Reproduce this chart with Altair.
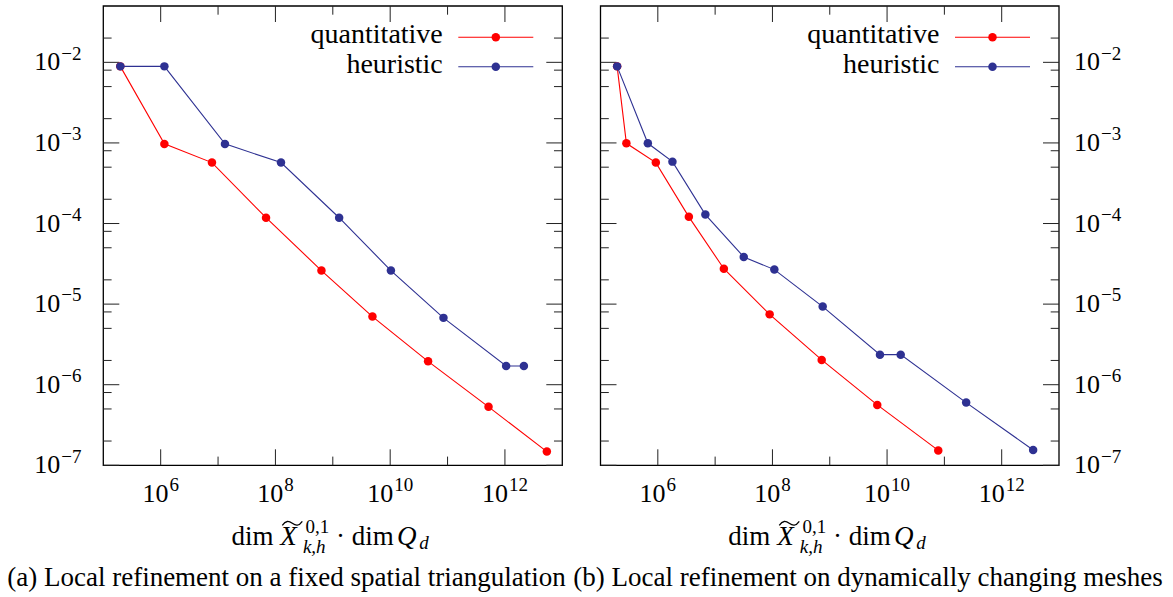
import altair as alt
import pandas as pd

# ---------------- data ----------------
SERIES = ["quantitative", "heuristic"]
COLORS = ["#ff0000", "#2e3192"]

# panel (a): fixed spatial triangulation
A_QUANT_DIM = [1.98e5, 1.16e6, 7.83e6, 6.86e7, 6.34e8, 4.91e9, 4.58e10, 5.18e11, 5.38e12]
A_QUANT_ERR = [8.91e-3, 9.73e-4, 5.70e-4, 1.18e-4, 2.61e-5, 7.00e-6, 1.95e-6, 5.31e-7, 1.48e-7]
A_HEUR_DIM = [1.98e5, 1.16e6, 1.32e7, 1.25e8, 1.29e9, 1.03e10, 8.49e10, 1.05e12, 2.14e12]
A_HEUR_ERR = [8.91e-3, 8.91e-3, 9.73e-4, 5.70e-4, 1.18e-4, 2.61e-5, 6.75e-6, 1.71e-6, 1.71e-6]

# panel (b): dynamically changing meshes
B_QUANT_DIM = [1.95e5, 2.83e5, 9.23e5, 3.48e6, 1.42e7, 8.93e7, 7.24e8, 6.75e9, 7.82e10]
B_QUANT_ERR = [8.91e-3, 9.89e-4, 5.70e-4, 1.21e-4, 2.75e-5, 7.46e-6, 2.03e-6, 5.61e-7, 1.53e-7]
B_HEUR_DIM = [1.95e5, 6.70e5, 1.80e6, 6.76e6, 3.16e7, 1.08e8, 7.53e8, 7.52e9, 1.73e10, 2.40e11, 3.54e12]
B_HEUR_ERR = [8.91e-3, 9.89e-4, 5.86e-4, 1.29e-4, 3.85e-5, 2.68e-5, 9.31e-6, 2.36e-6, 2.36e-6, 6.00e-7, 1.55e-7]

CAPTIONS = ["(a) Local refinement on a fixed spatial triangulation",
            "(b) Local refinement on dynamically changing meshes"]

X_LABEL_EXP = [6, 8, 10, 12]
X_MINOR_EXP = [7, 9, 11]
Y_LABEL_EXP = [-2, -3, -4, -5, -6, -7]
Y_MINOR = [2e-2, 8e-3, 5e-3, 2e-3, 8e-4, 5e-4, 2e-4, 8e-5, 5e-5, 2e-5,
           8e-6, 5e-6, 2e-6, 8e-7, 5e-7, 2e-7]

XDOM = [1e5, 1e13]
YDOM = [1e-7, 5e-2]

# ---------------- layout ----------------
W, H = 1173, 597
FONT = "Liberation Serif"
PANEL_X = [(103.3, 562.3), (600.5, 1059.0)]
Y_TOP, Y_BOT = 6.0, 465.3
CAPTION_X = [286.5, 868.0]
LEG_Y = [37.3, 66.7]
TICK = "#222222"
PT_SIZE = 72
TILDE = "M -1 0.2 C -0.65 -0.3 -0.35 -0.25 0 0 C 0.35 0.25 0.65 0.3 1 -0.2"

ys = alt.Scale(type="log", domain=YDOM, range=[Y_BOT, Y_TOP])
ONE = pd.DataFrame({"k": [0]})


def text_at(s, x, y, size, align="left", italic=False):
    props = dict(text=s, align=align, baseline="alphabetic", font=FONT, fontSize=size)
    if italic:
        props["fontStyle"] = "italic"
    return alt.Chart(ONE).mark_text(**props).encode(x=alt.value(x), y=alt.value(y))


def panel(idx, qx, qy, hx, hy):
    L, R = PANEL_X[idx]
    xs = alt.Scale(type="log", domain=XDOM, range=[L, R])

    def Xf(f):
        return alt.X(f, type="quantitative", scale=xs, axis=None)

    def Yf(f):
        return alt.Y(f, type="quantitative", scale=ys, axis=None)

    layers = []
    # frame
    layers.append(alt.Chart(ONE).mark_rect(fillOpacity=0, stroke="black", strokeWidth=1.3).encode(
        x=alt.value(L), x2=alt.value(R), y=alt.value(Y_TOP), y2=alt.value(Y_BOT)))

    # ticks (inward, mirrored on all sides)
    ymaj = pd.DataFrame({"v": [10.0 ** e for e in Y_LABEL_EXP]})
    ymin = pd.DataFrame({"v": Y_MINOR})
    xmaj = pd.DataFrame({"v": [10.0 ** e for e in X_LABEL_EXP]})
    xmin = pd.DataFrame({"v": [10.0 ** e for e in X_MINOR_EXP]})
    for df, ln in [(ymaj, 16), (ymin, 8.3)]:
        for x0, x1 in [(L, L + ln), (R, R - ln)]:
            layers.append(alt.Chart(df).mark_rule(color=TICK, strokeWidth=1).encode(
                x=alt.value(x0), x2=alt.value(x1), y=Yf("v")))
    for df, ln in [(xmaj, 16), (xmin, 8.7)]:
        for y0, y1 in [(Y_BOT, Y_BOT - ln), (Y_TOP, Y_TOP + ln)]:
            layers.append(alt.Chart(df).mark_rule(color=TICK, strokeWidth=1).encode(
                x=Xf("v"), y=alt.value(y0), y2=alt.value(y1)))

    # data
    for color, xv, yv in [(COLORS[0], qx, qy), (COLORS[1], hx, hy)]:
        df = pd.DataFrame({"dim": xv, "err": yv, "i": list(range(len(xv)))})
        base = alt.Chart(df).encode(x=Xf("dim"), y=Yf("err"))
        layers.append(base.mark_line(color=color, strokeWidth=1.1).encode(order="i:Q"))
        layers.append(base.mark_circle(color=color, size=PT_SIZE, opacity=1))

    # legend (label left, sample right)
    for j, (name, color) in enumerate(zip(SERIES, COLORS)):
        ly = LEG_Y[j]
        layers.append(text_at(name, R - 119.5, ly + 6, 28, align="right"))
        layers.append(alt.Chart(ONE).mark_rule(color=color, strokeWidth=1.1).encode(
            x=alt.value(R - 104), x2=alt.value(R - 29), y=alt.value(ly)))
        layers.append(alt.Chart(ONE).mark_circle(color=color, size=PT_SIZE, opacity=1).encode(
            x=alt.value(R - 66.5), y=alt.value(ly)))

    # y tick labels 10^{-k}
    ydf = pd.DataFrame({"v": [10.0 ** e for e in Y_LABEL_EXP],
                        "e": ["\u2212" + str(-e) for e in Y_LABEL_EXP]})
    if idx == 0:
        base_x, base_align, exp_x = L - 43, "right", L - 42
    else:
        base_x, base_align, exp_x = R + 15, "left", R + 42
    layers.append(alt.Chart(ydf).mark_text(
        text="10", align=base_align, baseline="alphabetic", dy=8, font=FONT, fontSize=26
    ).encode(x=alt.value(base_x), y=Yf("v")))
    layers.append(alt.Chart(ydf).mark_text(
        align="left", baseline="alphabetic", dy=-2.7, font=FONT, fontSize=19
    ).encode(x=alt.value(exp_x), y=Yf("v"), text="e:N"))

    # x tick labels 10^{k}
    for group, dxb, dxe in [([e for e in X_LABEL_EXP if e < 10], 7.75, 8.75),
                            ([e for e in X_LABEL_EXP if e >= 10], 3.0, 4.0)]:
        xdf = pd.DataFrame({"v": [10.0 ** e for e in group], "e": [str(e) for e in group]})
        layers.append(alt.Chart(xdf).mark_text(
            text="10", align="right", baseline="alphabetic", dx=dxb, font=FONT, fontSize=26
        ).encode(x=Xf("v"), y=alt.value(Y_BOT + 36.2)))
        layers.append(alt.Chart(xdf).mark_text(
            align="left", baseline="alphabetic", dx=dxe, font=FONT, fontSize=19
        ).encode(x=Xf("v"), y=alt.value(Y_BOT + 25.7), text="e:N"))

    # x axis title: dim X~^{0,1}_{k,h} . dim Q_d
    C = (L + R) / 2
    layers.append(text_at("dim", C - 101.4, 545.3, 27))
    layers.append(text_at("X", C - 52.5, 545.3, 27, italic=True))
    layers.append(alt.Chart(ONE).mark_point(
        shape=TILDE, size=400, filled=False, color="black", strokeWidth=1.3, opacity=1
    ).encode(x=alt.value(C - 40.5), y=alt.value(523.3)))
    layers.append(text_at("0,1", C - 27.3, 533.3, 19))
    layers.append(text_at("k,h", C - 29.9, 553.3, 19, italic=True))
    layers.append(text_at("\u00b7", C + 7.7, 545.3, 27, align="center"))
    layers.append(text_at("dim", C + 19.0, 545.3, 27))
    layers.append(text_at("Q", C + 64.2, 545.3, 27, italic=True))
    layers.append(text_at("d", C + 86.5, 549.3, 19, italic=True))

    # caption
    layers.append(text_at(CAPTIONS[idx], CAPTION_X[idx], 586, 27, align="center"))

    return layers


all_layers = (panel(0, A_QUANT_DIM, A_QUANT_ERR, A_HEUR_DIM, A_HEUR_ERR)
              + panel(1, B_QUANT_DIM, B_QUANT_ERR, B_HEUR_DIM, B_HEUR_ERR))

chart = alt.layer(*all_layers).resolve_scale(x="independent").properties(
    width=W, height=H, autosize=alt.AutoSizeParams(type="none"), padding=0
).configure_view(stroke=None)

chart.save("out.html", embed_options={"renderer": "svg", "actions": False})
